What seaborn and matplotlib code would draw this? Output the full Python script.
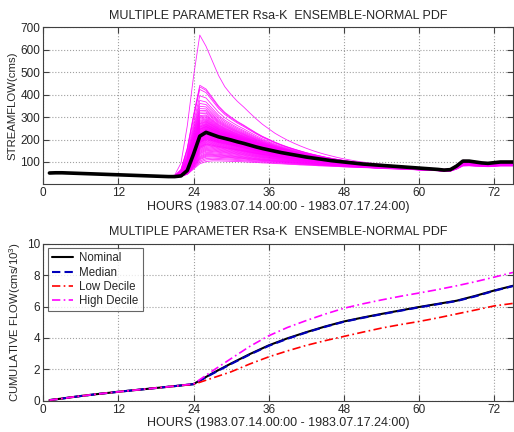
import numpy as np
import pandas as pd
import seaborn as sns
import matplotlib.pyplot as plt

# hourly streamflow (cms), hours 1..75
hours = list(range(1, 76))
nominal = [51, 52, 52, 51, 50, 49, 48, 47, 46, 45,
           44, 43, 42, 41, 40, 39, 38, 37, 36, 35,
           35, 38, 62, 135, 215, 232, 222, 212, 205, 198,
           190, 183, 175, 167, 160, 154, 148, 142, 137, 132,
           127, 122, 118, 114, 110, 106, 103, 100, 97, 94,
           91, 89, 87, 85, 83, 81, 79, 77, 75, 73,
           71, 69, 67, 64, 66, 82, 104, 104, 100, 96,
           94, 97, 100, 100, 100]
# highest and lowest ensemble traces
member_high = [51, 52, 52, 51, 50, 49, 48, 47, 46, 45,
               44, 43, 42, 41, 40, 39, 38, 37, 36, 36,
               42, 95, 260, 480, 665, 615, 550, 485, 435, 400,
               370, 345, 318, 292, 268, 248, 228, 212, 197, 184,
               172, 161, 151, 142, 134, 127, 120, 114, 109, 104,
               100, 96, 93, 90, 87, 84, 82, 80, 78, 76,
               74, 72, 70, 68, 70, 86, 108, 107, 103, 99,
               97, 99, 102, 102, 102]
member_low = [51, 52, 52, 51, 50, 49, 48, 47, 46, 45,
              44, 43, 42, 41, 40, 39, 38, 37, 36, 35,
              35, 36, 45, 68, 92, 102, 105, 105, 104, 103,
              102, 101, 99, 98, 96, 95, 93, 92, 90, 89,
              87, 86, 85, 83, 82, 81, 80, 78, 77, 76,
              75, 74, 72, 71, 70, 69, 68, 67, 66, 64,
              63, 62, 61, 58, 59, 68, 82, 83, 81, 80,
              79, 80, 82, 82, 82]
# peak flows of the ensemble members
member_peaks = [665, 450, 443, 432, 405, 385, 372, 360, 350, 342, 335, 328,
                320, 315, 310, 305, 300, 296, 292, 288, 285, 282, 278, 275,
                272, 270, 267, 264, 262, 260, 258, 255, 253, 250, 248, 246,
                244, 242, 240, 238, 236, 234, 230, 228, 226, 224, 222, 220,
                218, 216, 214, 212, 210, 208, 206, 204, 202, 200, 197, 194,
                191, 188, 185, 182, 180, 177, 174, 170, 166, 162, 158, 154,
                150, 145, 140, 136, 132, 128, 124, 118, 112, 105]

# cumulative flow (cms/10^3)
cum_hours = [1, 3, 6, 9, 12, 15, 18, 21, 24, 27, 30, 33, 36, 39, 42, 45, 48,
             51, 54, 57, 60, 63, 66, 69, 72, 75]
cum_nominal = [0.05, 0.15, 0.31, 0.45, 0.58, 0.70, 0.82, 0.94, 1.07, 1.75,
               2.38, 2.98, 3.53, 3.98, 4.37, 4.73, 5.05, 5.30, 5.53, 5.75,
               5.97, 6.17, 6.37, 6.68, 7.02, 7.32]
cum_median = [0.05, 0.15, 0.31, 0.45, 0.58, 0.70, 0.82, 0.94, 1.06, 1.72,
              2.35, 2.95, 3.50, 3.95, 4.35, 4.71, 5.03, 5.28, 5.51, 5.73,
              5.95, 6.15, 6.35, 6.65, 7.00, 7.30]
cum_low = [0.05, 0.15, 0.31, 0.45, 0.58, 0.70, 0.82, 0.94, 1.05, 1.45,
           1.85, 2.35, 2.80, 3.18, 3.53, 3.83, 4.10, 4.37, 4.63, 4.85,
           5.05, 5.28, 5.53, 5.78, 6.04, 6.20]
cum_high = [0.05, 0.15, 0.31, 0.45, 0.58, 0.70, 0.82, 0.94, 1.08, 1.90,
            2.69, 3.47, 4.14, 4.67, 5.11, 5.52, 5.89, 6.17, 6.42, 6.65,
            6.86, 7.08, 7.32, 7.58, 7.87, 8.17]

title = 'MULTIPLE PARAMETER Rsa-K  ENSEMBLE-NORMAL PDF'
xlab = 'HOURS (1983.07.14.00:00 - 1983.07.17.24:00)'


def member_trace(peak):
    nom = np.array(nominal, float)
    if peak >= max(nominal):
        w = (peak - max(nominal)) / (max(member_high) - max(nominal))
        return nom + w * (np.array(member_high, float) - nom)
    w = (max(nominal) - peak) / (max(nominal) - max(member_low))
    return nom + w * (np.array(member_low, float) - nom)


rows = []
for i, p in enumerate(member_peaks):
    for h, q in zip(hours, member_trace(p)):
        rows.append((i, h, q))
ens = pd.DataFrame(rows, columns=['member', 'hour', 'flow'])

sns.set_style('ticks')
plt.rcParams['font.family'] = ['Liberation Sans', 'DejaVu Sans']
plt.rcParams['mathtext.default'] = 'regular'

fig = plt.figure(figsize=(5.14, 4.32), dpi=100)
ax1 = fig.add_axes([0.084, 0.573, 0.914, 0.364])
ax2 = fig.add_axes([0.084, 0.072, 0.914, 0.364])

# top: ensemble hydrographs
sns.lineplot(data=ens, x='hour', y='flow', units='member', estimator=None,
             color='magenta', lw=0.6, alpha=0.85, legend=False, ax=ax1)
sns.lineplot(x=hours, y=nominal, color='black', lw=2.6, ax=ax1)
ax1.set_ylim(0, 700)
ax1.set_yticks(range(100, 701, 100))
ax1.set_ylabel('STREAMFLOW(cms)', fontsize=8.2, labelpad=2)

# bottom: cumulative flow
sns.lineplot(x=cum_hours, y=cum_nominal, color='black', lw=1.5, label='Nominal', ax=ax2)
sns.lineplot(x=cum_hours, y=cum_median, color='#0000bb', lw=1.5,
             linestyle=(0, (4, 2)), label='Median', ax=ax2)
sns.lineplot(x=cum_hours, y=cum_low, color='red', lw=1.2,
             linestyle=(0, (5, 2, 1, 2)), label='Low Decile', ax=ax2)
sns.lineplot(x=cum_hours, y=cum_high, color='magenta', lw=1.2,
             linestyle=(0, (5, 2, 1, 2)), label='High Decile', ax=ax2)
ax2.set_ylim(0, 10)
ax2.set_yticks(range(0, 11, 2))
ax2.set_ylabel('CUMULATIVE FLOW(cms/10$^3$)', fontsize=8.2, labelpad=3)
leg = ax2.legend(loc='upper left', fontsize=8.3, frameon=True, fancybox=False,
                 edgecolor='#404040', handlelength=1.8, borderpad=0.35,
                 labelspacing=0.2, handletextpad=0.6, borderaxespad=0.4)
leg.get_frame().set_linewidth(0.8)

for ax in (ax1, ax2):
    ax.set_xlim(0, 75)
    ax.set_xticks(range(0, 73, 12))
    ax.set_title(title, fontsize=9, pad=6)
    ax.set_xlabel(xlab, fontsize=9, labelpad=1)
    ax.grid(True, linestyle=':', color='#a0a0a0', lw=0.8)
    ax.tick_params(direction='in', top=True, right=True, labelsize=8.5,
                   length=4, width=0.8, color='#404040', pad=2)
    for s in ax.spines.values():
        s.set_color('#404040')
        s.set_linewidth(0.8)

fig.savefig('out.png', dpi=100)
